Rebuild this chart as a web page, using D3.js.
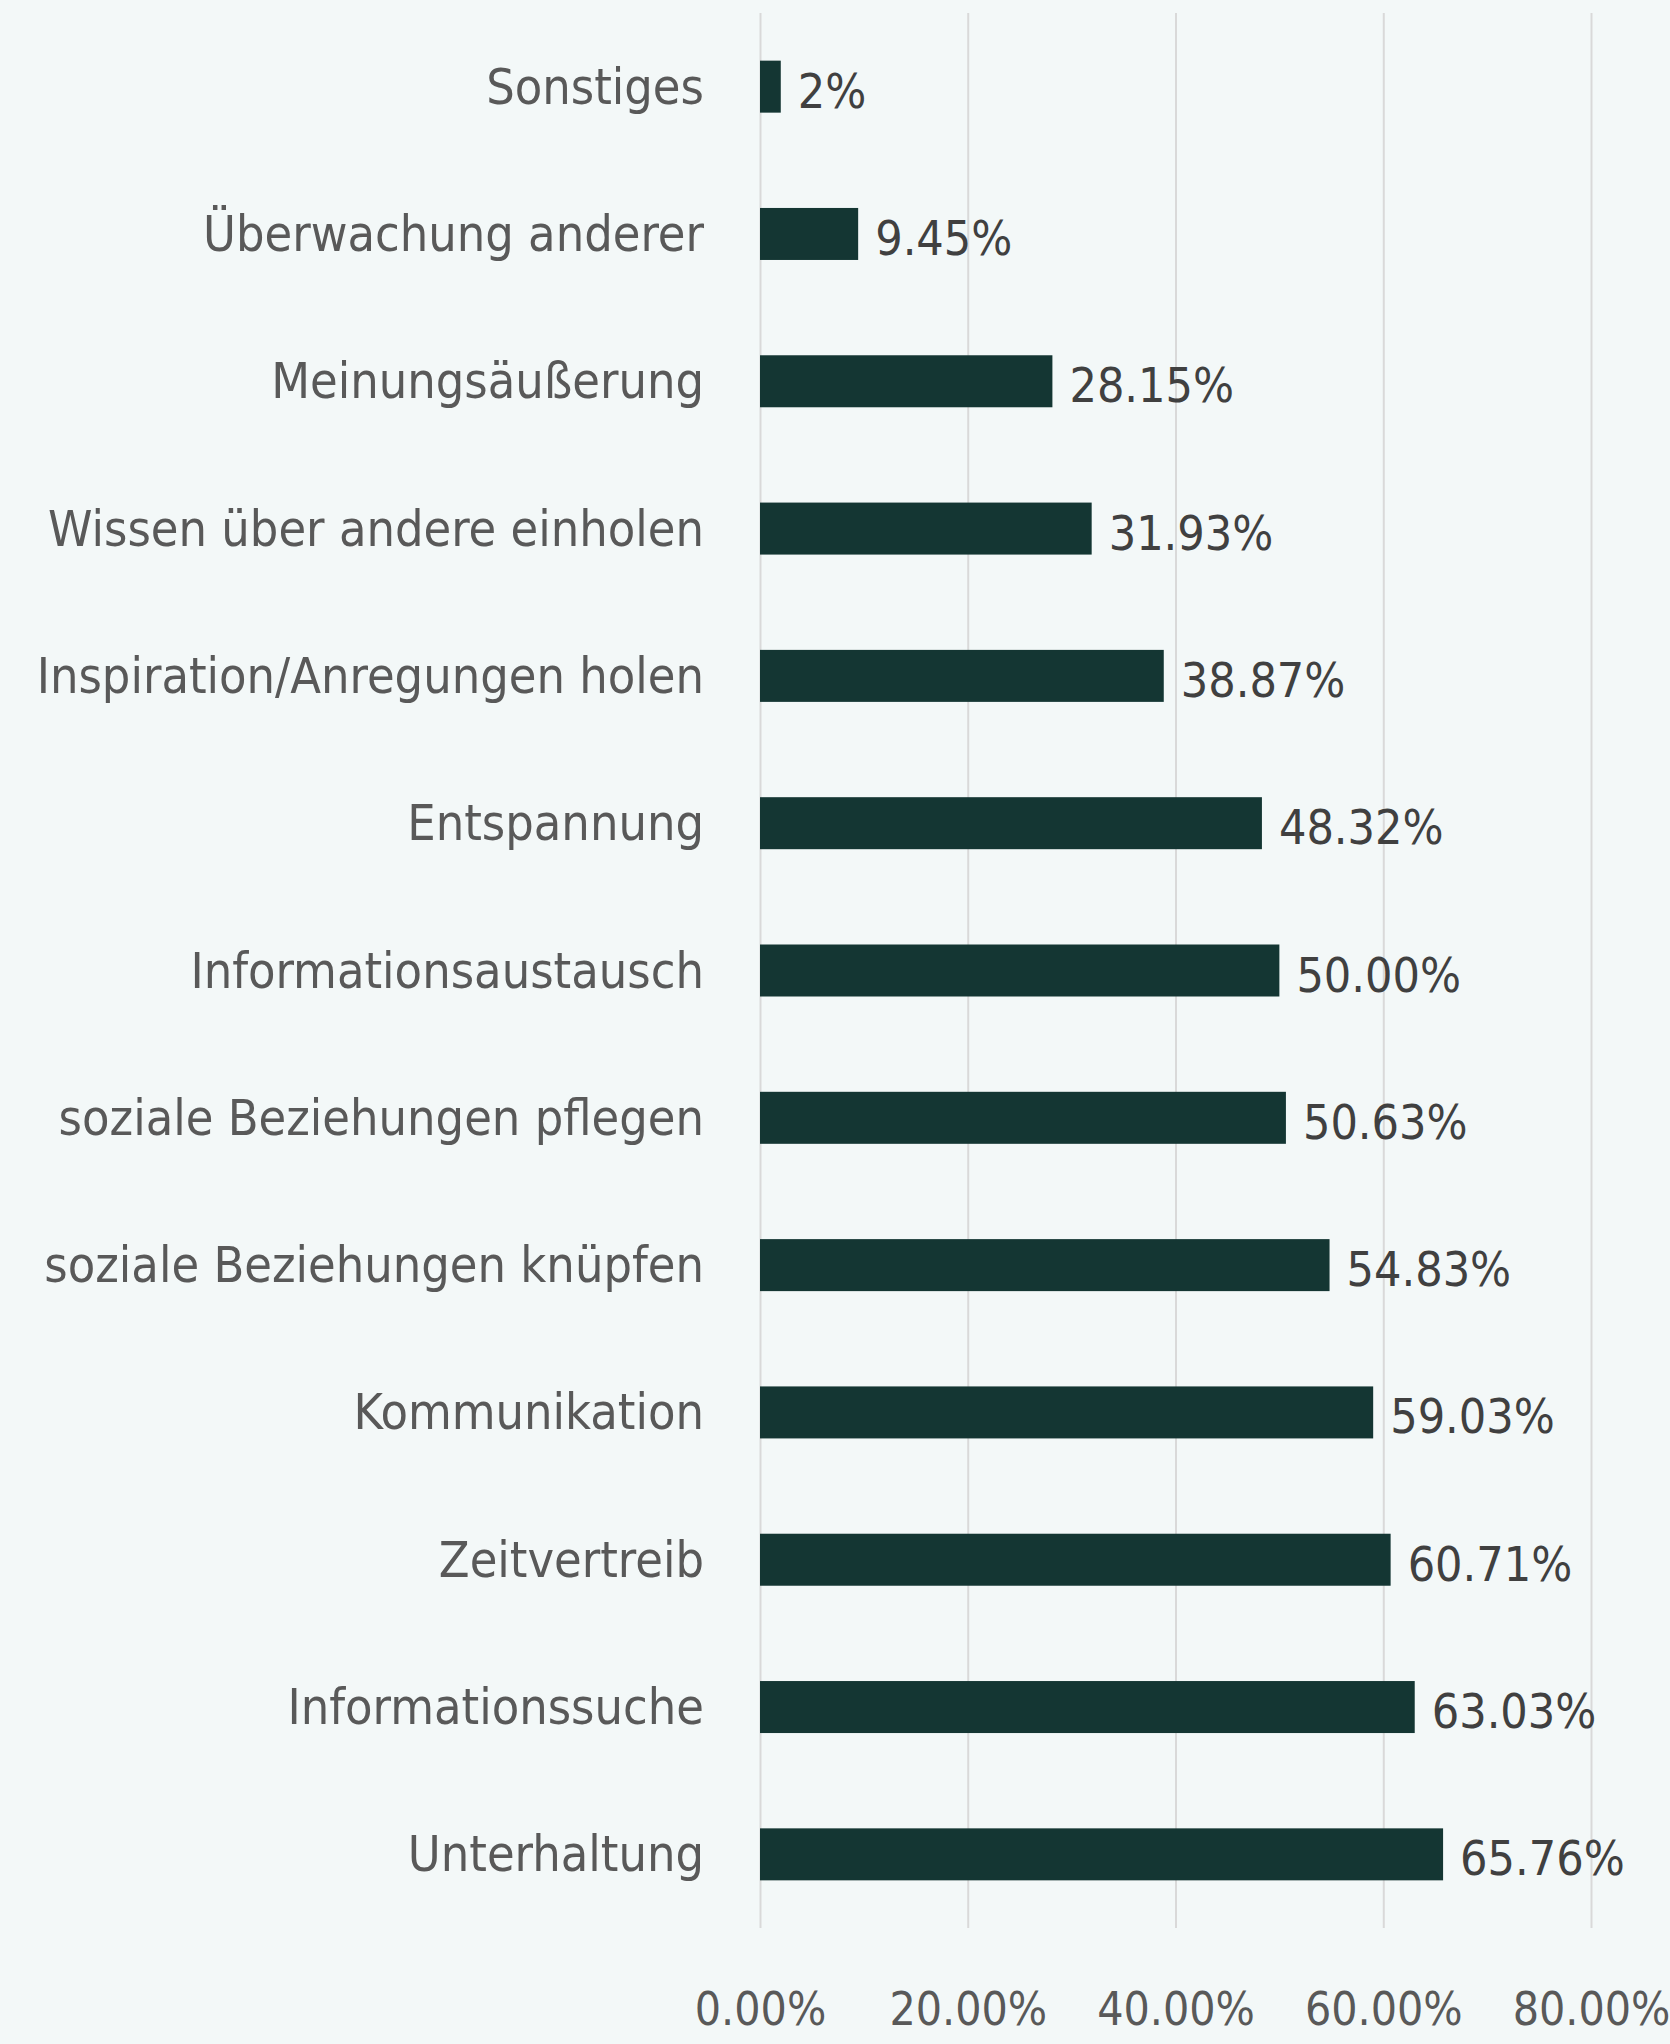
<!DOCTYPE html>
<html>
<head>
<meta charset="utf-8">
<script src="https://cdn.jsdelivr.net/npm/d3@7"></script>
<style>
  html, body { margin: 0; padding: 0; background: #f3f8f8; }
  svg text { font-family: "DejaVu Sans Condensed", "Liberation Sans Narrow", sans-serif; }
</style>
</head>
<body>
<div id="chart"></div>
<script>
const categories = [
  "Sonstiges",
  "Überwachung anderer",
  "Meinungsäußerung",
  "Wissen über andere einholen",
  "Inspiration/Anregungen holen",
  "Entspannung",
  "Informationsaustausch",
  "soziale Beziehungen pflegen",
  "soziale Beziehungen knüpfen",
  "Kommunikation",
  "Zeitvertreib",
  "Informationssuche",
  "Unterhaltung"
];
const values = [2, 9.45, 28.15, 31.93, 38.87, 48.32, 50.0, 50.63, 54.83, 59.03, 60.71, 63.03, 65.76];
const valueLabels = ["2%", "9.45%", "28.15%", "31.93%", "38.87%", "48.32%", "50.00%", "50.63%", "54.83%", "59.03%", "60.71%", "63.03%", "65.76%"];
const ticks = [0, 20, 40, 60, 80];

const width = 1670;
const height = 2044;
const margin = { top: 13, right: 79, bottom: 116, left: 760 };

const svg = d3.select("#chart")
  .append("svg")
  .attr("width", width)
  .attr("height", height);

svg.append("rect")
  .attr("width", width)
  .attr("height", height)
  .attr("fill", "#f3f8f8");

const x = d3.scaleLinear()
  .domain([0, 80])
  .range([margin.left, width - margin.right]);

const y = d3.scaleBand()
  .domain(categories)
  .range([margin.top, height - margin.bottom])
  .paddingInner(0.647)
  .paddingOuter(0.3235);

// gridlines
const grid = svg.append("g")
  .attr("transform", `translate(0, ${height - margin.bottom})`)
  .call(d3.axisBottom(x).tickValues(ticks).tickSize(-(height - margin.bottom - margin.top)).tickFormat(""));
grid.select(".domain").remove();
grid.selectAll("line").attr("stroke", "#d9d9d9").attr("stroke-width", 2);

// bars
svg.append("g")
  .selectAll("rect")
  .data(values)
  .join("rect")
  .attr("x", x(0))
  .attr("y", (d, i) => y(categories[i]))
  .attr("width", (d) => x(d) - x(0))
  .attr("height", y.bandwidth())
  .attr("fill", "#143633");

// value labels
svg.append("g")
  .selectAll("text")
  .data(values)
  .join("text")
  .attr("x", (d) => x(d) + 17)
  .attr("y", (d, i) => y(categories[i]) + y.bandwidth() / 2 + 21)
  .attr("fill", "#404040")
  .attr("font-size", 48)
  .text((d, i) => valueLabels[i]);

// category labels
const yAxis = svg.append("g")
  .attr("transform", `translate(${x(0) - 56}, 0)`)
  .call(d3.axisLeft(y).tickSize(0).tickPadding(0));
yAxis.select(".domain").remove();
yAxis.selectAll("text")
  .attr("font-size", 50)
  .attr("fill", "#595959")
  .attr("dy", null)
  .attr("y", 17);

// x tick labels
const xAxis = svg.append("g")
  .attr("transform", `translate(0, ${height - margin.bottom})`)
  .call(d3.axisBottom(x).tickValues(ticks).tickSize(0).tickFormat((d) => d3.format(".2f")(d) + "%"));
xAxis.select(".domain").remove();
xAxis.selectAll("text")
  .attr("font-size", 46)
  .attr("fill", "#595959")
  .attr("dy", null)
  .attr("y", 97);
</script>
</body>
</html>
